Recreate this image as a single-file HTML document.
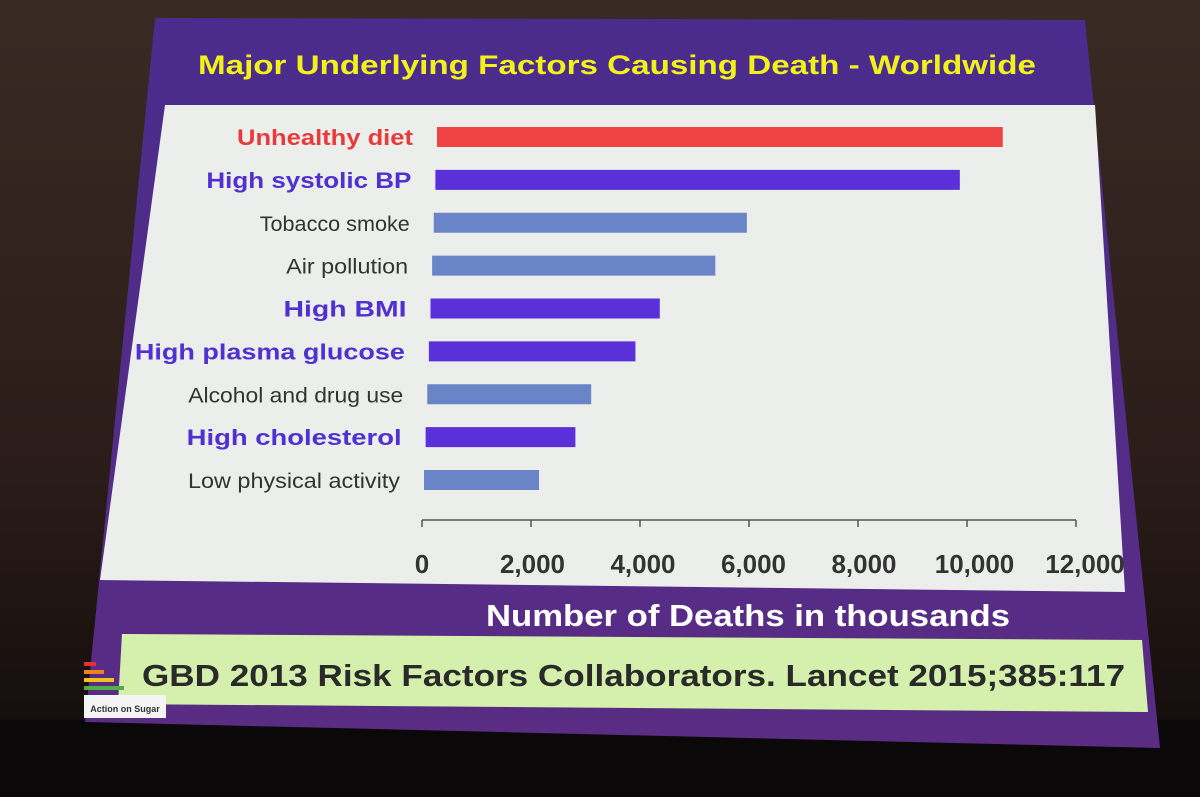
<!DOCTYPE html>
<html><head><meta charset="utf-8">
<style>
html,body{margin:0;padding:0;background:#1a1210;}
svg{display:block;font-family:"Liberation Sans",Arial,sans-serif;}
</style></head>
<body>
<svg width="1200" height="797" viewBox="0 0 1200 797">
<defs>
<linearGradient id="bg" x1="0" y1="0" x2="0" y2="1">
<stop offset="0" stop-color="#3a2a24"/><stop offset="0.6" stop-color="#2a1c18"/><stop offset="1" stop-color="#0e0a0a"/>
</linearGradient>
<linearGradient id="pur" x1="0" y1="0" x2="0" y2="1">
<stop offset="0" stop-color="#4a2c8c"/><stop offset="1" stop-color="#5a2c84"/>
</linearGradient>
</defs>
<rect width="1200" height="797" fill="url(#bg)"/>
<rect y="720" width="1200" height="77" fill="#0a0808"/>
<polygon points="155,18 1085,20 1160,748 85,722" fill="url(#pur)"/>
<polygon points="165,105 1095,105 1125,592 100,580" fill="#eceeec"/>
<text x="198" y="74" textLength="838" lengthAdjust="spacingAndGlyphs" font-size="27" font-weight="bold" fill="#f2f21a">Major Underlying Factors Causing Death - Worldwide</text>
<g id="chart"></g>
<text x="486" y="626" textLength="524" lengthAdjust="spacingAndGlyphs" font-size="31" font-weight="bold" fill="#ffffff">Number of Deaths in thousands</text>
<polygon points="122,634 1142,640 1148,712 118,704" fill="#d4f0ac"/>
<text x="142" y="686" textLength="983" lengthAdjust="spacingAndGlyphs" font-size="31" font-weight="bold" fill="#2a2a2a">GBD 2013 Risk Factors Collaborators. Lancet 2015;385:117</text>
<g>
<rect x="84" y="662" width="12" height="4" fill="#e03030"/>
<rect x="84" y="670" width="20" height="4" fill="#f08020"/>
<rect x="84" y="678" width="30" height="4" fill="#f0c020"/>
<rect x="84" y="686" width="40" height="4" fill="#50b040"/>
<rect x="84" y="695" width="82" height="23" fill="#f4f4f4"/>
<text x="125" y="712" text-anchor="middle" font-size="9" font-weight="bold" fill="#333">Action on Sugar</text>
</g>
</svg>
<script>
const categories=["Unhealthy diet","High systolic BP","Tobacco smoke","Air pollution","High BMI","High plasma glucose","Alcohol and drug use","High cholesterol","Low physical activity"];
const deaths=[10950,10100,6000,5400,4350,3900,3080,2800,2140];
const dietRelated=[2,1,0,0,1,1,0,1,0];
const tickValues=[0,2000,4000,6000,8000,10000,12000];
const tickLabels=["0","2,000","4,000","6,000","8,000","10,000","12,000"];
const labelWidths=[176,205,150,122,123,270,215,215,212];
const NS="http://www.w3.org/2000/svg";
const g=document.getElementById('chart');
const n=categories.length;
function rowY(i){return 137+i*(480-137)/(n-1);}
function x0(i){return 437-13*i/(n-1);}
function xs(v,i){return x0(i)+v*(620+25*i/(n-1))/12000;}
function mk(t,a){const e=document.createElementNS(NS,t);for(const k in a)e.setAttribute(k,a[k]);g.appendChild(e);return e;}
const colors=["#6a84c8","#5a30d8","#f04444"];
const labColors=["#333333","#5030d0","#e83a3a"];
categories.forEach((c,i)=>{
  const y=rowY(i);
  const r=mk('rect',{x:x0(i),y:y-10,width:xs(deaths[i],i)-x0(i),height:20,fill:colors[dietRelated[i]]});
  
  
  const t=mk('text',{x:x0(i)-24,y:y+8,'text-anchor':'end','font-size':dietRelated[i]?22:21,'font-weight':dietRelated[i]?'bold':'normal',fill:labColors[dietRelated[i]],textLength:labelWidths[i],lengthAdjust:'spacingAndGlyphs'});
  t.textContent=c;
  
  
});
const ay=520;
function ax(v){return 422+v*654/12000;}
const al=mk('line',{x1:ax(0),y1:ay,x2:ax(12000),y2:ay,stroke:'#555','stroke-width':1.5});


tickValues.forEach((v,k)=>{
  const tk=mk('line',{x1:ax(v),y1:ay,x2:ax(v),y2:ay+7,stroke:'#555','stroke-width':1.5});
  
  
  const t=mk('text',{x:ax(v)+k*1.5,y:573,'text-anchor':'middle','font-size':26,'font-weight':600,fill:'#333'});
  t.textContent=tickLabels[k];
  
  
});
</script>
</body></html>
